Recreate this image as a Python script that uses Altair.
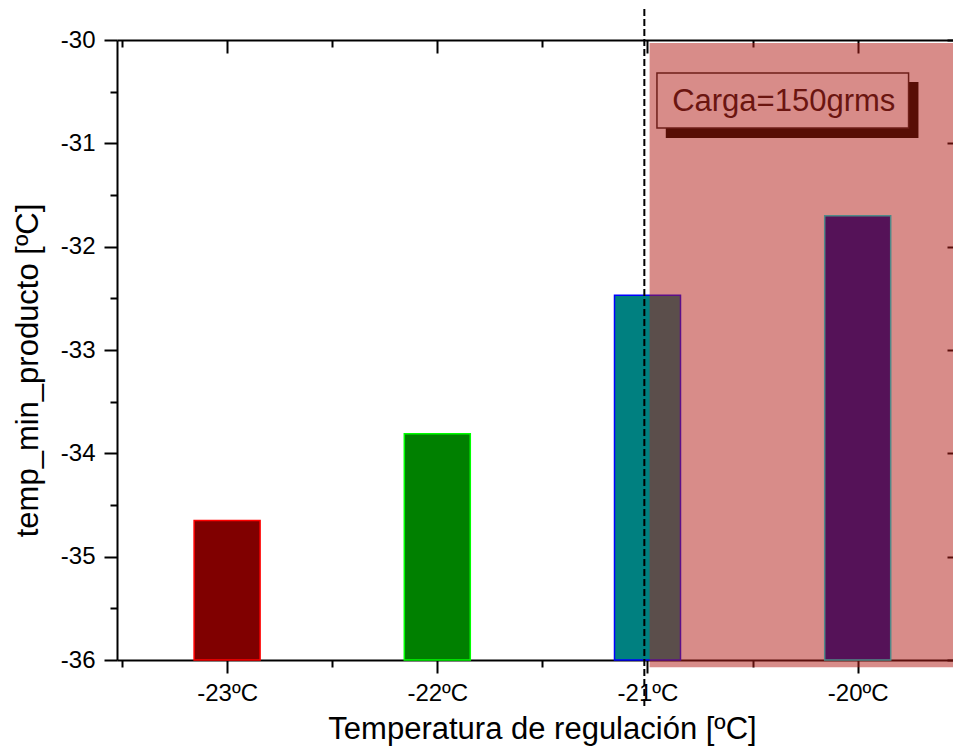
import altair as alt
import pandas as pd

# ---- data -------------------------------------------------------------
temps = [-23, -22, -21, -20]
tick_labels = ["-23ºC", "-22ºC", "-21ºC", "-20ºC"]
min_temp = [-34.65, -33.81, -32.47, -31.70]
bar_base = -36.0

# highlighted region and reference line (data coordinates)
region_x = [-20.99, -19.40]
region_y = [-30.03, -36.07]
line_x = [-21.015]
line_y = [-29.70, -36.45]

# annotation
note_text = ["Carga=150grms"]
note_pos = [-20.352, -30.687]
box_x = [-20.955, -19.758]
box_y = [-30.319, -30.852]
shadow_x = [-20.913, -19.711]
shadow_y = [-30.406, -30.948]

x_domain = [-23.5, -19.5704]
y_domain = [-36, -30]
x_major = temps
x_minor = [-23.5, -22.5, -21.5, -20.5]
y_major = [-36, -35, -34, -33, -32, -31, -30]
y_minor = [-35.5, -34.5, -33.5, -32.5, -31.5, -30.5]

# ---- styles -----------------------------------------------------------
FONT = "Liberation Sans"
fills = ["#800000", "#008000", "#008080", "#551258"]
strokes = ["#FF0000", "#00FF00", "#0000FF", "#4F8A88"]

df = pd.DataFrame({"t": temps, "v": min_temp, "b": [bar_base] * len(temps)})
df_region = pd.DataFrame({"x0": [region_x[0]], "x1": [region_x[1]],
                          "y0": [region_y[0]], "y1": [region_y[1]]})
df_line = pd.DataFrame({"x": line_x, "y0": [line_y[0]], "y1": [line_y[1]]})
df_shadow = pd.DataFrame({"x0": [shadow_x[0]], "x1": [shadow_x[1]],
                          "y0": [shadow_y[0]], "y1": [shadow_y[1]]})
df_box = pd.DataFrame({"x0": [box_x[0]], "x1": [box_x[1]],
                       "y0": [box_y[0]], "y1": [box_y[1]]})
df_note = pd.DataFrame({"x": [note_pos[0]], "y": [note_pos[1]], "label": note_text})

xs = alt.Scale(domain=x_domain, nice=False, zero=False)
ys = alt.Scale(domain=y_domain, nice=False, zero=False)

label_expr = " : ".join(
    f"datum.value === {t} ? '{l}'" for t, l in zip(temps, tick_labels)
) + " : ''"

common = dict(grid=False, tickColor="black", tickWidth=2, domainColor="black",
              domainWidth=2, zindex=0)

bottom_major = alt.Axis(orient="bottom", values=x_major, tickSize=13,
                        labelExpr=label_expr, labelFont=FONT, labelFontSize=24,
                        labelColor="black", labelPadding=27,
                        labelBaseline="alphabetic", labelFlush=False,
                        title="Temperatura de regulación [ºC]", titleFont=FONT,
                        titleFontSize=31, titleFontWeight="normal",
                        titleColor="black", titleX=425, titleY=78,
                        titleBaseline="alphabetic", **common)
bottom_minor = alt.Axis(orient="bottom", values=x_minor, tickSize=7,
                        labels=False, domain=False, title=None, **common)
left_major = alt.Axis(orient="left", values=y_major, tickSize=13,
                      labelExpr="datum.value + ''", labelFont=FONT,
                      labelFontSize=24, labelColor="black", labelPadding=9,
                      labelBaseline="middle",
                      title="temp_min_producto [ºC]", titleFont=FONT,
                      titleFontSize=31, titleFontWeight="normal",
                      titleColor="black", titleX=-80, titleY=330,
                      titleBaseline="alphabetic", **common)
left_minor = alt.Axis(orient="left", values=y_minor, tickSize=7,
                      labels=False, domain=False, title=None, **common)
top_domain = alt.Axis(orient="top", values=x_major, ticks=False, labels=False,
                      domain=True, title=None, **common)
top_major = alt.Axis(orient="top", values=x_major, tickSize=13, offset=-13,
                     labels=False, domain=False, title=None, **common)
top_minor = alt.Axis(orient="top", values=x_minor, tickSize=7, offset=-7,
                     labels=False, domain=False, title=None, **common)
right_major = alt.Axis(orient="right", values=y_major, tickSize=6, offset=-6,
                       labels=False, domain=False, title=None, **common)

fill_enc = alt.Fill("t:N", scale=alt.Scale(domain=temps, range=fills), legend=None)
stroke_enc = alt.Stroke("t:N", scale=alt.Scale(domain=temps, range=strokes), legend=None)

base = alt.Chart(df)

bars_low = base.transform_filter("datum.t !== -20").mark_bar(
    size=66, strokeWidth=1.5
).encode(
    x=alt.X("t:Q", scale=xs, axis=bottom_major),
    y=alt.Y("v:Q", scale=ys, axis=left_major),
    y2=alt.Y2("b:Q"),
    fill=fill_enc,
    stroke=stroke_enc,
)

shade = alt.Chart(df_region).mark_rect(
    fill="#B31E17", fillOpacity=0.51, strokeWidth=0
).encode(
    x=alt.X("x0:Q", scale=xs, axis=top_domain),
    x2="x1:Q",
    y=alt.Y("y0:Q", scale=ys, axis=right_major),
    y2="y1:Q",
)

bars_high = base.transform_filter("datum.t === -20").mark_bar(
    size=66, strokeWidth=1.5
).encode(
    x=alt.X("t:Q", scale=xs, axis=top_major),
    y=alt.Y("v:Q", scale=ys, axis=left_minor),
    y2=alt.Y2("b:Q"),
    fill=fill_enc,
    stroke=stroke_enc,
)

rule = alt.Chart(df_line).mark_rule(
    color="black", strokeWidth=2, strokeDash=[7, 3]
).encode(
    x=alt.X("x:Q", scale=xs, axis=top_minor),
    y=alt.Y("y0:Q", scale=ys, axis=None),
    y2="y1:Q",
)

shadow = alt.Chart(df_shadow).mark_rect(fill="#580E05", strokeWidth=0).encode(
    x=alt.X("x0:Q", scale=xs, axis=bottom_minor),
    x2="x1:Q",
    y=alt.Y("y0:Q", scale=ys, axis=None),
    y2="y1:Q",
)

box = alt.Chart(df_box).mark_rect(
    fill="#D88C89", stroke="#6E1E18", strokeWidth=1.5
).encode(
    x=alt.X("x0:Q", scale=xs, axis=None),
    x2="x1:Q",
    y=alt.Y("y0:Q", scale=ys, axis=None),
    y2="y1:Q",
)

note = alt.Chart(df_note).mark_text(
    font=FONT, fontSize=31, color="#6B1510", align="center", baseline="alphabetic"
).encode(
    x=alt.X("x:Q", scale=xs, axis=None),
    y=alt.Y("y:Q", scale=ys, axis=None),
    text="label:N",
)

chart = alt.layer(
    bars_low, shade, bars_high, rule, shadow, box, note
).resolve_axis(
    x="independent", y="independent"
).properties(
    width=836,
    height=620,
    autosize=alt.AutoSizeParams(type="none"),
    padding={"left": 109, "top": 32, "right": 0, "bottom": 88},
    background="white",
).configure_view(stroke=None)

chart.save("out.html", embed_options={"renderer": "svg", "actions": False})
